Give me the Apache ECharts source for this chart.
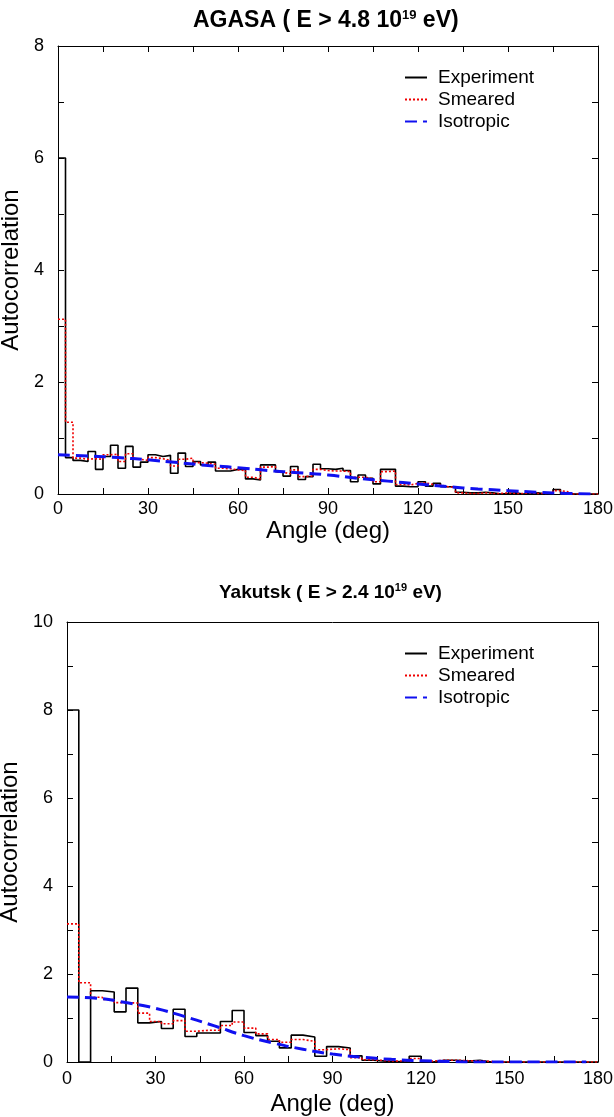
<!DOCTYPE html>
<html>
<head>
<meta charset="utf-8">
<script src="https://cdn.jsdelivr.net/npm/echarts@6/dist/echarts.min.js"></script>
<style>
html, body { margin: 0; background: #fff; }
#chart { width: 614px; height: 1117px; }
</style>
</head>
<body>
<div id="chart"></div>
<script>
var FONT = 'Liberation Sans, Arial, sans-serif';

// AGASA, bins of 2.5 deg
var agasaBin = 2.5;
var agasaExperiment = [6.0, 0.65, 0.60, 0.58, 0.76, 0.44, 0.67, 0.87, 0.46, 0.85, 0.48, 0.57,
    0.70, 0.67, 0.69, 0.37, 0.73, 0.49, 0.58, 0.52, 0.57, 0.41, 0.41, 0.44,
    0.44, 0.27, 0.25, 0.52, 0.52, 0.40, 0.32, 0.49, 0.26, 0.31, 0.53, 0.45,
    0.44, 0.46, 0.42, 0.22, 0.34, 0.28, 0.18, 0.44, 0.44, 0.14, 0.13, 0.13,
    0.22, 0.14, 0.19, 0.13, 0.13, 0.03, 0.02, 0.02, 0.03, 0.02, 0.00, 0.01,
    0.02, 0.00, 0.01, 0.02, 0.00, 0.02, 0.08, 0.01, 0.00, 0.00, 0.00, 0.00];
var agasaSmeared = [3.12, 1.28, 0.64, 0.62, 0.63, 0.62, 0.70, 0.71, 0.58, 0.72, 0.62, 0.60,
    0.65, 0.63, 0.60, 0.50, 0.62, 0.64, 0.56, 0.55, 0.53, 0.46, 0.45, 0.43,
    0.42, 0.30, 0.27, 0.48, 0.49, 0.39, 0.36, 0.43, 0.31, 0.32, 0.44, 0.42,
    0.41, 0.41, 0.40, 0.30, 0.30, 0.27, 0.22, 0.40, 0.41, 0.17, 0.16, 0.19,
    0.20, 0.17, 0.16, 0.13, 0.12, 0.02, 0.01, 0.01, 0.02, 0.01, 0.01, 0.02,
    0.01, 0.01, 0.02, 0.01, 0.01, 0.02, 0.06, 0.04, 0.00, 0.00, 0.00, 0.00];
var agasaIsoAngle = [0, 10, 20, 30, 40, 50, 60, 70, 80, 90, 100, 110, 120, 130, 140, 150, 160, 170, 178];
var agasaIsoValue = [0.70, 0.68, 0.65, 0.61, 0.56, 0.51, 0.47, 0.42, 0.38, 0.34, 0.28, 0.23, 0.18, 0.13, 0.09, 0.06, 0.03, 0.01, 0.00];

// Yakutsk, bins of 4 deg
var yakutskBin = 4;
var yakutskExperiment = [8.0, 0.0, 1.62, 1.59, 1.14, 1.68, 0.89, 0.92, 0.76, 1.20, 0.58, 0.66,
    0.66, 0.92, 1.17, 0.67, 0.60, 0.47, 0.32, 0.61, 0.57, 0.13, 0.35, 0.32,
    0.14, 0.04, 0.02, 0.01, 0.00, 0.13, 0.00, 0.04, 0.04, 0.02, 0.04, 0.00,
    0.00, 0.00, 0.00, 0.00, 0.00, 0.00, 0.00, 0.00, 0.00];
var yakutskSmeared = [3.14, 1.80, 1.47, 1.42, 1.35, 1.34, 1.11, 0.92, 0.87, 0.94, 0.70, 0.72,
    0.72, 0.83, 0.91, 0.77, 0.64, 0.51, 0.45, 0.51, 0.47, 0.28, 0.30, 0.28,
    0.10, 0.05, 0.03, 0.02, 0.03, 0.08, 0.02, 0.04, 0.04, 0.03, 0.03, 0.01,
    0.00, 0.00, 0.00, 0.00, 0.00, 0.00, 0.00, 0.00, 0.00];
var yakutskIsoAngle = [0, 10, 20, 30, 40, 50, 60, 70, 80, 90, 100, 110, 120, 130, 140, 150, 160, 170, 176];
var yakutskIsoValue = [1.48, 1.45, 1.35, 1.22, 1.03, 0.82, 0.60, 0.43, 0.29, 0.18, 0.11, 0.06, 0.03, 0.01, 0.0, 0.0, 0.0, 0.0, 0.0];

var seriesNames = ['Experiment', 'Smeared', 'Isotropic'];

// histogram as step line: one point per bin start, plus the last edge
var stepData = function(values, width) {
    var d = [];
    for (var i = 0; i < values.length; i++) {
        d.push([i * width, values[i]]);
    }
    d.push([values.length * width, values[values.length - 1]]);
    return d;
};

var pairData = function(xs, ys) {
    var d = [];
    for (var i = 0; i < xs.length; i++) {
        d.push([xs[i], ys[i]]);
    }
    return d;
};

var tickStyle = {show: true, inside: true, length: 6, lineStyle: {color: '#000', width: 1}};
var lineStyle = {show: true, onZero: false, lineStyle: {color: '#000', width: 1}};
var labelStyle = {color: '#000', fontSize: 18, fontFamily: FONT};
var nameStyle = {color: '#000', fontSize: 24, fontFamily: FONT};

// ticks every 15 deg / 1 unit, labels only on every second one
var everyOther = function(step) {
    return function(v) {
        return Math.round(v / step) % 2 === 0 ? String(v) : '';
    };
};

var makeAxes = function(g, ymax, labelMarginX, nameGapX, nameGapY) {
    return {
        x: [
            {
                gridIndex: g, type: 'value', min: 0, max: 180, interval: 15,
                name: 'Angle (deg)', nameLocation: 'middle', nameGap: nameGapX, nameTextStyle: nameStyle,
                axisLine: lineStyle, axisTick: tickStyle,
                axisLabel: Object.assign({margin: labelMarginX, formatter: everyOther(15)}, labelStyle),
                splitLine: {show: false}
            },
            {
                gridIndex: g, type: 'value', min: 0, max: 180, interval: 15, position: 'top',
                axisLine: lineStyle,
                axisTick: {show: g === 0, inside: true, length: 6, lineStyle: {color: '#000'}},
                axisLabel: {show: false}, splitLine: {show: false}
            }
        ],
        y: [
            {
                gridIndex: g, type: 'value', min: 0, max: ymax, interval: 1,
                name: 'Autocorrelation', nameLocation: 'middle', nameGap: nameGapY, nameTextStyle: nameStyle,
                axisLine: lineStyle, axisTick: tickStyle,
                axisLabel: Object.assign({margin: 14, formatter: everyOther(1)}, labelStyle),
                splitLine: {show: false}
            },
            {
                gridIndex: g, type: 'value', min: 0, max: ymax, interval: 1, position: 'right',
                axisLine: lineStyle, axisTick: tickStyle,
                axisLabel: {show: false}, splitLine: {show: false}
            }
        ]
    };
};

var axesTop = makeAxes(0, 8, 6, 16, 26);
var axesBottom = makeAxes(1, 10, 8, 30, 34);

var makeSeries = function(xi, yi, exp, sm, bin, isoX, isoY) {
    return [
        {
            name: 'Experiment', type: 'line', step: 'end', xAxisIndex: xi, yAxisIndex: yi,
            symbol: 'none', z: 3,
            lineStyle: {color: '#000', width: 1.6},
            itemStyle: {color: '#000'},
            data: stepData(exp, bin)
        },
        {
            name: 'Smeared', type: 'line', step: 'end', xAxisIndex: xi, yAxisIndex: yi,
            symbol: 'none', z: 4,
            lineStyle: {color: '#f00000', width: 1.6, type: [2, 2]},
            itemStyle: {color: '#f00000'},
            data: stepData(sm, bin)
        },
        {
            name: 'Isotropic', type: 'line', smooth: true, xAxisIndex: xi, yAxisIndex: yi,
            symbol: 'none', z: 5,
            lineStyle: {color: '#1010f0', width: 3, type: [12, 6]},
            itemStyle: {color: '#1010f0'},
            data: pairData(isoX, isoY)
        }
    ];
};

var legendBase = function(top) {
    return {
        left: 399, top: top, orient: 'vertical',
        itemWidth: 22, itemHeight: 14, itemGap: 3,
        itemStyle: {opacity: 0},
        textStyle: {color: '#000', fontSize: 19, fontFamily: FONT, padding: [0, 0, 0, 6]},
        data: seriesNames
    };
};

var richTitle = function(size, supSize) {
    return {
        t: {fontSize: size, fontWeight: 'bold', fontFamily: FONT, color: '#000'},
        s: {fontSize: supSize, fontWeight: 'bold', fontFamily: FONT, color: '#000', verticalAlign: 'top', padding: [0, 0, 10, 0]}
    };
};

var option = {
    animation: false,
    backgroundColor: '#fff',
    title: [
        {left: 188, top: 4, text: '{t|AGASA ( E > 4.8 10}{s|19}{t| eV)}', textStyle: {rich: richTitle(23, 13)}},
        {left: 214, top: 577, text: '{t|Yakutsk ( E > 2.4 10}{s|19}{t| eV)}', textStyle: {rich: richTitle(19, 11)}}
    ],
    legend: [legendBase(63), legendBase(639)],
    grid: [
        {left: 58, top: 46, width: 540, height: 448, outerBoundsMode: 'none', containLabel: false},
        {left: 67, top: 622, width: 531, height: 440, outerBoundsMode: 'none', containLabel: false}
    ],
    xAxis: axesTop.x.concat(axesBottom.x),
    yAxis: axesTop.y.concat(axesBottom.y),
    series: makeSeries(0, 0, agasaExperiment, agasaSmeared, agasaBin, agasaIsoAngle, agasaIsoValue)
        .concat(makeSeries(2, 2, yakutskExperiment, yakutskSmeared, yakutskBin, yakutskIsoAngle, yakutskIsoValue))
};

var chart = echarts.init(document.getElementById('chart'));
chart.setOption(option);
</script>
</body>
</html>
